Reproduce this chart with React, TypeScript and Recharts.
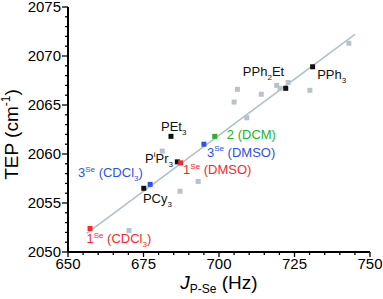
import React from 'react';
import { ScatterChart, Scatter, XAxis, YAxis, ReferenceLine } from 'recharts';

// J(P-Se) in Hz vs TEP in cm-1
const GRAY_POINTS = [
  { x: 670.2, y: 2052.2 },
  { x: 681.2, y: 2060.3 },
  { x: 687.1, y: 2056.2 },
  { x: 693.1, y: 2057.2 },
  { x: 705.0, y: 2065.3 },
  { x: 706.1, y: 2066.6 },
  { x: 709.2, y: 2063.7 },
  { x: 714.0, y: 2066.1 },
  { x: 719.1, y: 2067.0 },
  { x: 720.2, y: 2066.7 },
  { x: 722.9, y: 2067.3 },
  { x: 730.1, y: 2066.5 },
  { x: 743.0, y: 2071.3 },
];

const PHOSPHINES = [
  { x: 675.1, y: 2056.5 },
  { x: 684.1, y: 2061.8 },
  { x: 686.2, y: 2059.2 },
  { x: 722.1, y: 2066.7 },
  { x: 731.0, y: 2068.9 },
];

const SE1_POINTS = [
  { x: 657.3, y: 2052.4 },
  { x: 687.3, y: 2059.1 },
];

const SE3_POINTS = [
  { x: 677.2, y: 2056.9 },
  { x: 695.0, y: 2061.0 },
];

const DCM2_POINTS = [{ x: 698.6, y: 2061.8 }];

const FIT_LINE = [
  { x: 656.2, y: 2051.9 },
  { x: 745.0, y: 2072.2 },
];

// label anchors (left / baseline) in data units
const LABELS = [
  { x: 707.9, y: 2068.0, text: 'PPh_{2}Et', group: 'black' },
  { x: 732.5, y: 2067.65, text: 'PPh_{3}', group: 'black' },
  { x: 680.8, y: 2062.35, text: 'PEt_{3}', group: 'black' },
  { x: 675.5, y: 2059.1, text: 'P^{i}Pr_{3}', group: 'black' },
  { x: 674.8, y: 2055.0, text: 'PCy_{3}', group: 'black' },
  { x: 688.1, y: 2057.96, text: '1^{Se} (DMSO)', group: 'red' },
  { x: 656.1, y: 2050.87, text: '1^{Se} (CDCl_{3})', group: 'red' },
  { x: 696.0, y: 2059.7, text: '3^{Se} (DMSO)', group: 'blue' },
  { x: 653.3, y: 2057.65, text: '3^{Se} (CDCl_{3})', group: 'blue' },
  { x: 702.6, y: 2061.5, text: '2 (DCM)', group: 'green' },
];

const X_TICKS = Array.from({ length: 21 }, (_, i) => 650 + i * 5);
const Y_TICKS = Array.from({ length: 26 }, (_, i) => 2050 + i);

const COLORS: Record<string, string> = {
  gray: '#b7c3c9',
  black: '#111111',
  red: '#f42a2a',
  blue: '#3050ee',
  green: '#22b422',
  fit: '#aec2ca',
};

const FONT = '"Liberation Sans", Arial, sans-serif';

const square = (color: string, size: number) => (props: any) => {
  const { cx, cy } = props;
  if (cx == null || cy == null) return <g />;
  return <rect x={cx - size / 2} y={cy - size / 2} width={size} height={size} fill={color} />;
};

// turns 'PPh_{2}Et' into tspans
function richText(text: string, size: number) {
  const parts: React.ReactNode[] = [];
  const re = /([_^])\{([^}]*)\}/g;
  let last = 0;
  let back = 0;
  let m: RegExpExecArray | null;
  let k = 0;
  while ((m = re.exec(text))) {
    if (m.index > last) {
      parts.push(
        <tspan key={k++} dy={back || undefined} fontSize={size}>
          {text.slice(last, m.index)}
        </tspan>
      );
      back = 0;
    }
    const shift = m[1] === '^' ? -size * 0.42 : size * 0.3;
    parts.push(
      <tspan key={k++} dy={shift + back} fontSize={size * 0.62}>
        {m[2]}
      </tspan>
    );
    back = -shift;
    last = re.lastIndex;
  }
  if (last < text.length) {
    parts.push(
      <tspan key={k++} dy={back || undefined} fontSize={size}>
        {text.slice(last)}
      </tspan>
    );
  }
  return parts;
}

const LabelShape = (props: any) => {
  const { cx, cy, payload } = props;
  if (cx == null || cy == null) return <g />;
  return (
    <text x={cx} y={cy} fontSize={13} fontFamily={FONT} fill={COLORS[payload.group]}>
      {richText(payload.text, 13)}
    </text>
  );
};

const XTick = (props: any) => {
  const { x, y, payload } = props;
  const v = payload.value;
  const major = v % 25 === 0;
  return (
    <g>
      <line x1={x} x2={x} y1={y} y2={y + (major ? 5 : 3)} stroke="#000" strokeWidth={1.3} />
      {major && (
        <text x={x} y={y + 17} textAnchor="middle" fontSize={15} fontFamily={FONT} fill="#000">
          {v}
        </text>
      )}
    </g>
  );
};

const YTick = (props: any) => {
  const { x, y, payload } = props;
  const v = payload.value;
  const major = v % 5 === 0;
  return (
    <g>
      <line x1={x - (major ? 6 : 3)} x2={x} y1={y} y2={y} stroke="#000" strokeWidth={1.3} />
      {major && (
        <text x={x - 7} y={y + 5} textAnchor="end" fontSize={15} fontFamily={FONT} fill="#000">
          {v}
        </text>
      )}
    </g>
  );
};

const XTitle = (props: any) => {
  const vb = props.viewBox || { x: 68, y: 252, width: 302 };
  return (
    <text x={vb.x + vb.width / 2} y={vb.y + 37} textAnchor="middle" fontSize={19} fontFamily={FONT} fill="#000">
      <tspan fontStyle="italic">J</tspan>
      <tspan fontSize={12} dy={4}>P-Se</tspan>
      <tspan dy={-4}> (Hz)</tspan>
    </text>
  );
};

const YTitle = (props: any) => {
  const vb = props.viewBox || { x: 0, y: 7, height: 245 };
  const cx = 18;
  const cy = vb.y + vb.height / 2 + 5;
  return (
    <text
      x={cx}
      y={cy}
      transform={`rotate(-90, ${cx}, ${cy})`}
      textAnchor="middle"
      fontSize={19}
      fontFamily={FONT}
      fill="#000"
    >
      <tspan>TEP (cm</tspan>
      <tspan fontSize={12} dy={-8}>-1</tspan>
      <tspan dy={8}>)</tspan>
    </text>
  );
};

export default function App() {
  return (
    <div style={{ position: 'absolute', left: 0, top: 0, width: 383, height: 299, background: '#fff' }}>
      <ScatterChart width={383} height={299} margin={{ top: 7, right: 13, left: 0, bottom: 0 }}>
        <XAxis
          xAxisId="main"
          dataKey="x"
          type="number"
          domain={[650, 750]}
          ticks={X_TICKS}
          interval={0}
          allowDataOverflow
          height={47}
          tickSize={0}
          tickMargin={0}
          tickLine={false}
          tick={<XTick />}
          axisLine={{ stroke: '#000', strokeWidth: 2 }}
          label={<XTitle />}
        />
        <XAxis
          xAxisId="top"
          orientation="top"
          type="number"
          domain={[650, 750]}
          height={0}
          tick={false}
          tickLine={false}
          axisLine={{ stroke: '#000', strokeWidth: 2 }}
        />
        <YAxis
          yAxisId="main"
          dataKey="y"
          type="number"
          domain={[2050, 2075]}
          ticks={Y_TICKS}
          interval={0}
          allowDataOverflow
          width={68}
          tickSize={0}
          tickMargin={0}
          tickLine={false}
          tick={<YTick />}
          axisLine={{ stroke: '#000', strokeWidth: 2 }}
          label={<YTitle />}
        />
        <YAxis
          yAxisId="right"
          orientation="right"
          type="number"
          domain={[2050, 2075]}
          width={0}
          tick={false}
          tickLine={false}
          axisLine={{ stroke: '#000', strokeWidth: 2 }}
        />
        <ReferenceLine
          xAxisId="main"
          yAxisId="main"
          segment={FIT_LINE}
          stroke={COLORS.fit}
          strokeWidth={1.6}
        />
        <Scatter xAxisId="main" yAxisId="main" data={GRAY_POINTS} shape={square(COLORS.gray, 5)} isAnimationActive={false} />
        <Scatter xAxisId="main" yAxisId="main" data={PHOSPHINES} shape={square(COLORS.black, 5)} isAnimationActive={false} />
        <Scatter xAxisId="main" yAxisId="main" data={SE1_POINTS} shape={square(COLORS.red, 5)} isAnimationActive={false} />
        <Scatter xAxisId="main" yAxisId="main" data={SE3_POINTS} shape={square(COLORS.blue, 5)} isAnimationActive={false} />
        <Scatter xAxisId="main" yAxisId="main" data={DCM2_POINTS} shape={square(COLORS.green, 5)} isAnimationActive={false} />
        <Scatter xAxisId="main" yAxisId="main" data={LABELS} shape={(p: any) => <LabelShape {...p} />} isAnimationActive={false} />
      </ScatterChart>
    </div>
  );
}
